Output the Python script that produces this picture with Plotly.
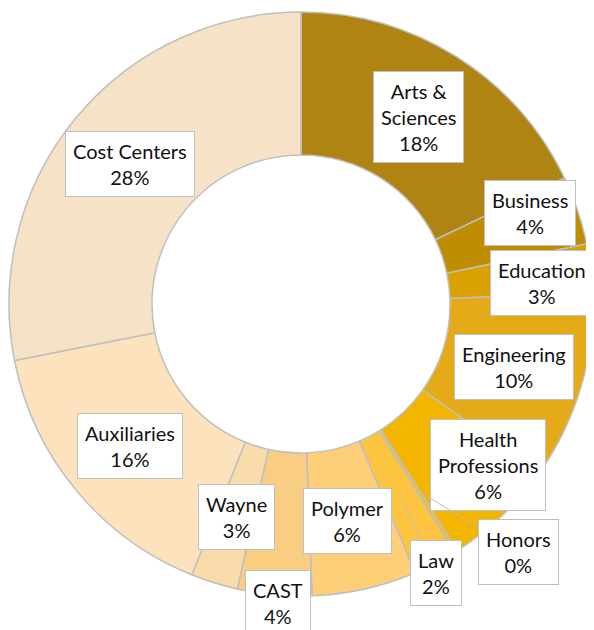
import math
import plotly.graph_objects as go

# ---- data ----
categories = ["Arts & Sciences", "Business", "Education", "Engineering",
              "Health Professions", "Honors", "Law", "Polymer", "CAST",
              "Wayne", "Auxiliaries", "Cost Centers"]
values = [17.9, 3.8, 2.7, 10.4, 6.2, 0.2, 2.4, 5.8, 4.1, 2.6, 15.8, 28.1]
label_text = ["Arts &amp;<br>Sciences", "Business", "Education", "Engineering",
              "Health<br>Professions", "Honors", "Law", "Polymer", "CAST",
              "Wayne", "Auxiliaries", "Cost Centers"]

# ---- style ----
colors = ["#AF8412", "#BE8E00", "#D9A200", "#E4AA18", "#F3B500", "#F8BE20",
          "#FCC440", "#FDCF78", "#F9CD82", "#F8DCAB", "#FCE3BD", "#F6E3C7"]
label_radius = [221, 246, 242, 222, 247, 330, 301, 222, 300, 222, 222, 221]
label_shift = [0, -3, 2, 0, -5.7, -9.3, 0.8, 0.6, -0.9, -0.5, 0, 0]
callout = [False, False, False, False, False, True, True, False, False, False, False, False]

W, H = 594, 630
OFF = 8  # default page body margin in the browser
cx, cy, R, r_in = 301 - OFF, 304 - OFF, 292, 149

fig = go.Figure(go.Pie(
    labels=categories, values=values, sort=False, direction="clockwise",
    rotation=0, hole=r_in / R, textinfo="none",
    marker=dict(colors=colors, line=dict(color="#BFBFBF", width=1.5)),
    domain=dict(x=[(cx - R) / W, (cx + R) / W],
                y=[(H - cy - R) / H, (H - cy + R) / H]),
    showlegend=False,
))

total = sum(values)
cum = 0.0
annotations = []
for i, v in enumerate(values):
    mid = (cum + v / 2) / total * 360.0
    cum += v
    pct = round(v / total * 100)
    txt = f"{label_text[i]}<br>{pct}%"
    th = math.radians(mid + label_shift[i])
    lx = cx + label_radius[i] * math.sin(th)
    ly = cy - label_radius[i] * math.cos(th)
    common = dict(text=txt, xref="paper", yref="paper",
                  font=dict(family="Lato", size=20, color="#111111"),
                  bgcolor="white", bordercolor="#BFBFBF", borderwidth=1,
                  borderpad=7, align="center")
    if callout[i]:
        tm = math.radians(mid)
        rt = (R + r_in) / 2
        tx = cx + rt * math.sin(tm)
        ty = cy - rt * math.cos(tm)
        annotations.append(dict(x=tx / W, y=1 - ty / H, showarrow=True,
                                ax=lx - tx, ay=ly - ty, arrowhead=0,
                                arrowwidth=1, arrowcolor="#BFBFBF",
                                standoff=0, **common))
    else:
        annotations.append(dict(x=lx / W, y=1 - ly / H, showarrow=False,
                                xanchor="center", yanchor="middle", **common))

fig.update_layout(width=W, height=H, margin=dict(l=0, r=0, t=0, b=0),
                  paper_bgcolor="white", plot_bgcolor="white",
                  annotations=annotations)
fig.write_html("out.html")
